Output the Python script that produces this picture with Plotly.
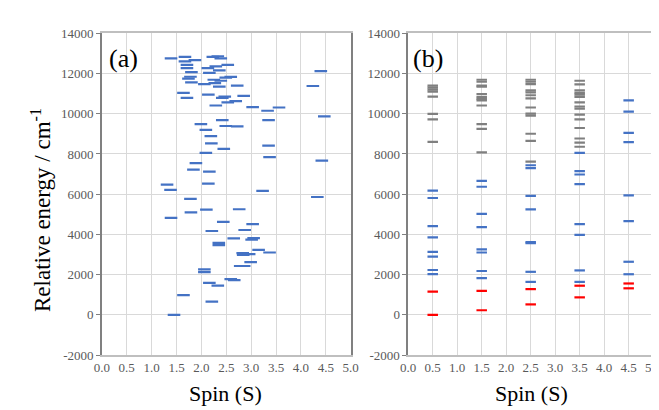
import plotly.graph_objects as go

# ---------------- Panel (a) data: spin value, relative energy ----------------
a_spin = [1.39, 1.67, 1.67, 1.87, 1.71, 1.71, 1.80, 1.78, 1.74, 1.80,
          2.23, 2.33, 2.39, 2.53, 2.13, 2.29, 2.36, 2.16, 2.49, 2.59,
          2.25, 2.39, 2.06, 2.27, 2.36, 2.72, 1.64, 1.71, 2.14, 2.42,
          2.47, 2.53, 2.69, 2.29, 2.42, 1.99, 2.49, 2.72, 2.09, 2.19,
          2.20, 2.45, 2.09, 1.89, 1.84, 2.16, 1.31, 2.14, 4.40, 2.85,
          3.03, 3.33, 3.56, 3.35, 4.47, 3.35, 3.37, 4.42, 4.24, 1.38,
          1.78, 1.79, 1.39, 2.10, 2.76, 2.44, 2.21, 2.65, 2.35, 2.35,
          2.06, 2.06, 2.16, 2.33, 2.59, 2.66, 1.64, 2.21, 1.45, 3.23,
          4.33, 3.03, 2.87, 3.05, 3.01, 3.15, 3.37, 2.83, 2.84, 2.96,
          2.99, 2.78, 2.86]
a_energy = [12750, 12830, 12600, 12670, 12430, 12270, 12070, 11840, 11750, 11560,
            12830, 12860, 12750, 12430, 12270, 12360, 12160, 12030, 11800, 11830,
            11690, 11640, 11470, 11520, 11350, 11400, 11040, 10790, 10950, 10790,
            10850, 10570, 10630, 10410, 9680, 9480, 9390, 9370, 9200, 8890,
            8530, 8250, 8050, 7540, 7220, 7120, 6480, 6530, 12120, 10890,
            10330, 10150, 10310, 9680, 9870, 8410, 7840, 7670, 11380, 6210,
            5770, 5100, 4820, 5230, 5250, 4620, 4170, 3800, 3580, 3470,
            2260, 2120, 1590, 1450, 1780, 1730, 980, 660, 0, 6160,
            5860, 4510, 4220, 3820, 3740, 3230, 3100, 3070, 2980, 3020,
            2620, 2430, 2430]

# ---------------- Panel (b) data: energies per spin column ----------------
spin_cols = [0.5, 1.5, 2.5, 3.5, 4.5]
b_red = {
    0.5: [0, 1160],
    1.5: [230, 1190],
    2.5: [520, 1280],
    3.5: [870, 1450],
    4.5: [1320, 1560],
}
b_blue = {
    0.5: [6180, 5810, 4410, 3850, 3130, 2900, 2230, 2030],
    1.5: [6660, 6370, 5020, 4360, 3260, 3100, 2180, 1830],
    2.5: [7440, 7300, 5920, 5240, 3620, 3560, 2140, 1640],
    3.5: [8050, 7150, 6980, 6500, 4510, 3980, 2210, 1640],
    4.5: [10660, 10110, 9050, 8590, 5940, 4660, 2640, 2020],
}
b_gray = {
    0.5: [11400, 11300, 11200, 11100, 10850, 9990, 9720, 8600],
    1.5: [11690, 11590, 11400, 11350, 10980, 10830, 10740, 10660, 10410,
          9480, 9245, 8080],
    2.5: [11690, 11590, 11470, 11160, 11060, 10920, 10760, 10310, 10010,
          9910, 9005, 8650, 7620],
    3.5: [11640, 11460, 11160, 11040, 10950, 10840, 10570, 10360, 10250,
          9960, 9720, 9290, 8770, 8560, 8360],
    4.5: [],
}

x_ticks = [0.0, 0.5, 1.0, 1.5, 2.0, 2.5, 3.0, 3.5, 4.0, 4.5, 5.0]
y_ticks = [-2000, 0, 2000, 4000, 6000, 8000, 10000, 12000, 14000]

BLUE = "#4472C4"
GRAY = "#7F7F7F"
RED = "#FF0000"
FONT = "Liberation Serif"

W, H = 659, 410


def flat(d):
    xs, ys = [], []
    for s in spin_cols:
        for e in d[s]:
            xs.append(s)
            ys.append(e)
    return xs, ys


fig = go.Figure()

fig.add_trace(go.Scatter(
    x=a_spin, y=a_energy, mode="markers", xaxis="x", yaxis="y",
    marker=dict(symbol="line-ew", size=9, line=dict(color=BLUE, width=2.2)),
    showlegend=False, hoverinfo="x+y"))

for d, c in [(b_gray, GRAY), (b_blue, BLUE), (b_red, RED)]:
    xs, ys = flat(d)
    fig.add_trace(go.Scatter(
        x=xs, y=ys, mode="markers", xaxis="x2", yaxis="y2",
        marker=dict(symbol="line-ew", size=7.5, line=dict(color=c, width=2.2)),
        showlegend=False, hoverinfo="x+y"))

yb, yt = (H - 353) / H, (H - 19) / H

xcommon = dict(range=[0, 5], tickvals=x_ticks,
               ticktext=[f"{v:.1f}" for v in x_ticks],
               showgrid=True, gridcolor="#D9D9D9", gridwidth=1,
               showline=True, linecolor="#BFBFBF", linewidth=1.5, mirror=True,
               ticks="", zeroline=False,
               tickfont=dict(family=FONT, size=13, color="#595959"))
ycommon = dict(range=[-2000, 14000], tickvals=y_ticks,
               ticktext=[str(v) for v in y_ticks],
               showgrid=True, gridcolor="#D9D9D9", gridwidth=1,
               showline=True, linecolor="#808080", linewidth=1.5, mirror=True,
               ticks="outside", ticklen=4, tickcolor="#808080",
               zeroline=False,
               tickfont=dict(family=FONT, size=13, color="#595959"))

fig.update_layout(
    width=W, height=H,
    margin=dict(l=0, r=0, t=0, b=0),
    paper_bgcolor="white", plot_bgcolor="white",
    font=dict(family=FONT),
    xaxis=dict(domain=[88 / W, 343 / W], anchor="y", **xcommon),
    yaxis=dict(domain=[yb, yt], anchor="x", **ycommon),
    xaxis2=dict(domain=[402 / W, 653 / W], anchor="y2", **xcommon),
    yaxis2=dict(domain=[yb, yt], anchor="x2", **ycommon),
    annotations=[
        dict(text="Relative energy / cm<sup>-1</sup>", textangle=-90,
             xref="paper", yref="paper", x=26 / W, y=(H - 202) / H,
             xanchor="center", yanchor="middle", showarrow=False,
             font=dict(family=FONT, size=23, color="black")),
        dict(text="Spin (S)", xref="paper", yref="paper",
             x=215 / W, y=(H - 393) / H, xanchor="center", yanchor="middle",
             showarrow=False, font=dict(family=FONT, size=22, color="black")),
        dict(text="Spin (S)", xref="paper", yref="paper",
             x=528 / W, y=(H - 393) / H, xanchor="center", yanchor="middle",
             showarrow=False, font=dict(family=FONT, size=22, color="black")),
        dict(text="(a)", xref="paper", yref="paper",
             x=93 / W, y=(H - 45) / H, xanchor="left", yanchor="middle",
             showarrow=False, font=dict(family=FONT, size=26, color="black")),
        dict(text="(b)", xref="paper", yref="paper",
             x=405 / W, y=(H - 45) / H, xanchor="left", yanchor="middle",
             showarrow=False, font=dict(family=FONT, size=26, color="black")),
    ],
)

fig.write_html("out.html")
